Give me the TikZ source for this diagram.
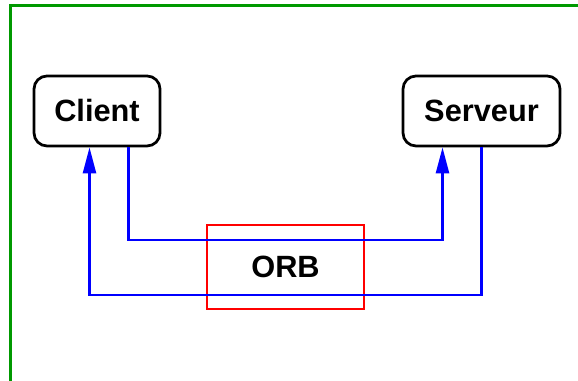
\documentclass[tikz,border=0pt]{standalone}
\usepackage{fontspec}
\setmainfont{Liberation Sans}
\usetikzlibrary{arrows.meta}
\tikzset{
    entity/.style={draw, line width=0.055cm, rounded corners=0.26cm, minimum height=1.4cm,
                   font=\bfseries\fontsize{17.5}{19}\selectfont},
    bus/.style={draw=red, line width=0.05cm, minimum width=3.14cm, minimum height=1.68cm,
                font=\bfseries\fontsize{17.5}{19}\selectfont},
    link/.style={blue, line width=0.05cm},
    req/.style={link, -{Triangle[length=0.52cm,width=0.26cm]}}
}
\begin{document}
\begin{tikzpicture}
    \useasboundingbox (0,0) rectangle (11.56,7.6);
    \clip (0,0) rectangle (11.56,7.6);
    \draw [line width=0.05cm, green!60!black] (0.21,-1) rectangle (12.5,7.49);% frame
    \node [entity, minimum width=2.52cm] (Client)  at (1.94,5.38) {Client};
    \node [entity, minimum width=3.14cm] (Serveur) at (9.63,5.38) {Serveur};
    \node [bus] (ORB) at (5.71,2.26) {ORB};
    \coordinate (ClientOut) at (2.57,2.8);
    \coordinate (ClientIn)  at (1.79,1.7);
    \coordinate (ServIn)    at (8.85,2.8);
    \coordinate (ServOut)   at (9.63,1.7);
    % client -> serveur
    \draw [req] (Client.south -| ClientOut) -- (ClientOut) -- (ServIn) -- (Serveur.south -| ServIn);
    % serveur -> client
    \draw [req] (ServOut |- Serveur.south) -- (ServOut) -- (ClientIn) -- (ClientIn |- Client.south);
\end{tikzpicture}
\end{document}
